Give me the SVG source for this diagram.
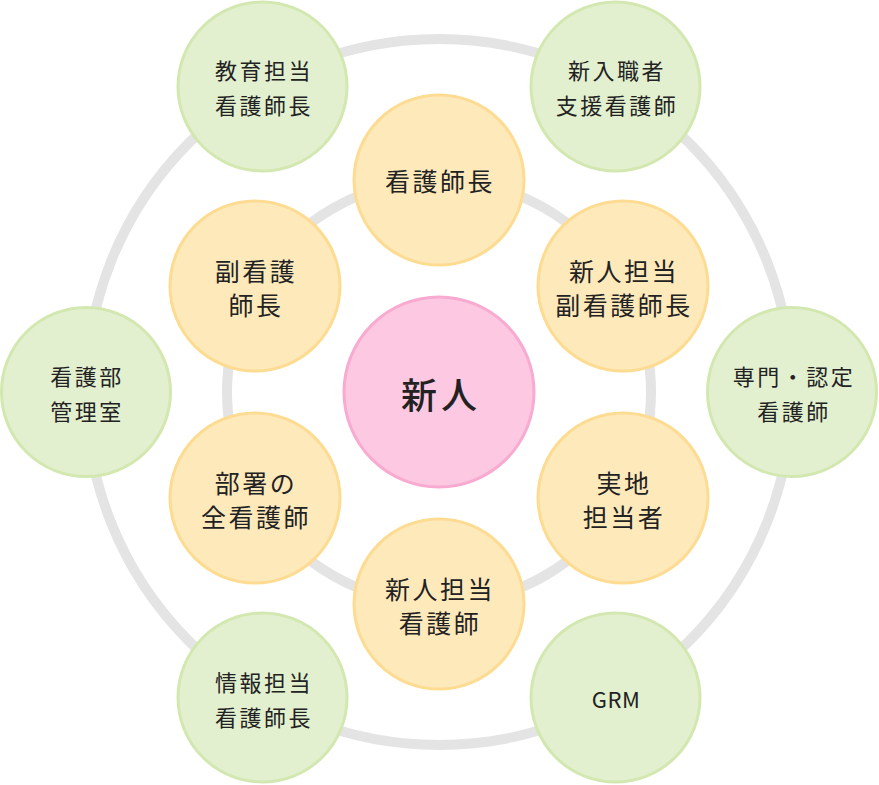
<svg xmlns="http://www.w3.org/2000/svg" width="879" height="785" viewBox="0 0 879 785">
<style>
.ring{fill:none;stroke:#e4e4e4;stroke-width:10}
.g{fill:#e3f0cf;stroke:#d3e8b0;stroke-width:3}
.o{fill:#fee9bb;stroke:#fddc92;stroke-width:3}
.p{fill:#fdc8e1;stroke:#f9aad0;stroke-width:3}
text{font-family:"Noto Sans CJK JP","Noto Sans",sans-serif;fill:#222;text-anchor:middle;dominant-baseline:central}
.tg{font-size:22px;letter-spacing:2.5px}
.to{font-size:25px;letter-spacing:2.5px}
.tc{font-size:36px;letter-spacing:4px;font-weight:500}
.latin{letter-spacing:0.5px}
</style>
<rect width="879" height="785" fill="#fff"/>
<g id="connectors">
<circle class="ring" cx="439" cy="392" r="353"/>
<circle class="ring" cx="439" cy="392" r="212"/>
</g>
<g id="n-center"><circle class="p" cx="439" cy="392" r="95"/><text class="tc" x="441" y="393">新人</text></g>
<g id="n-o1"><circle class="o" cx="439" cy="180" r="85"/><text class="to" x="440" y="180">看護師長</text></g>
<g id="n-o2"><circle class="o" cx="623" cy="286" r="85"/><text class="to" x="624" y="270">新人担当</text><text class="to" x="624" y="304">副看護師長</text></g>
<g id="n-o3"><circle class="o" cx="623" cy="498" r="85"/><text class="to" x="624" y="482">実地</text><text class="to" x="624" y="516">担当者</text></g>
<g id="n-o4"><circle class="o" cx="439" cy="604" r="85"/><text class="to" x="440" y="588">新人担当</text><text class="to" x="440" y="622">看護師</text></g>
<g id="n-o5"><circle class="o" cx="255" cy="498" r="85"/><text class="to" x="256" y="482">部署の</text><text class="to" x="256" y="516">全看護師</text></g>
<g id="n-o6"><circle class="o" cx="255" cy="286" r="85"/><text class="to" x="256" y="270">副看護</text><text class="to" x="256" y="304">師長</text></g>
<g id="n-g1"><circle class="g" cx="262.5" cy="86.5" r="84.5"/><text class="tg" x="264" y="69">教育担当</text><text class="tg" x="264" y="104">看護師長</text></g>
<g id="n-g2"><circle class="g" cx="615.5" cy="86.5" r="84.5"/><text class="tg" x="617" y="69">新入職者</text><text class="tg" x="617" y="104">支援看護師</text></g>
<g id="n-g3"><circle class="g" cx="792" cy="392" r="84.5"/><text class="tg" x="794" y="375">専門・認定</text><text class="tg" x="794" y="410">看護師</text></g>
<g id="n-g4"><circle class="g" cx="615.5" cy="697.5" r="84.5"/><text class="tg latin" x="616" y="698">GRM</text></g>
<g id="n-g5"><circle class="g" cx="262.5" cy="697.5" r="84.5"/><text class="tg" x="264" y="681">情報担当</text><text class="tg" x="264" y="716">看護師長</text></g>
<g id="n-g6"><circle class="g" cx="86" cy="392" r="84.5"/><text class="tg" x="87" y="375">看護部</text><text class="tg" x="87" y="410">管理室</text></g>
</svg>
